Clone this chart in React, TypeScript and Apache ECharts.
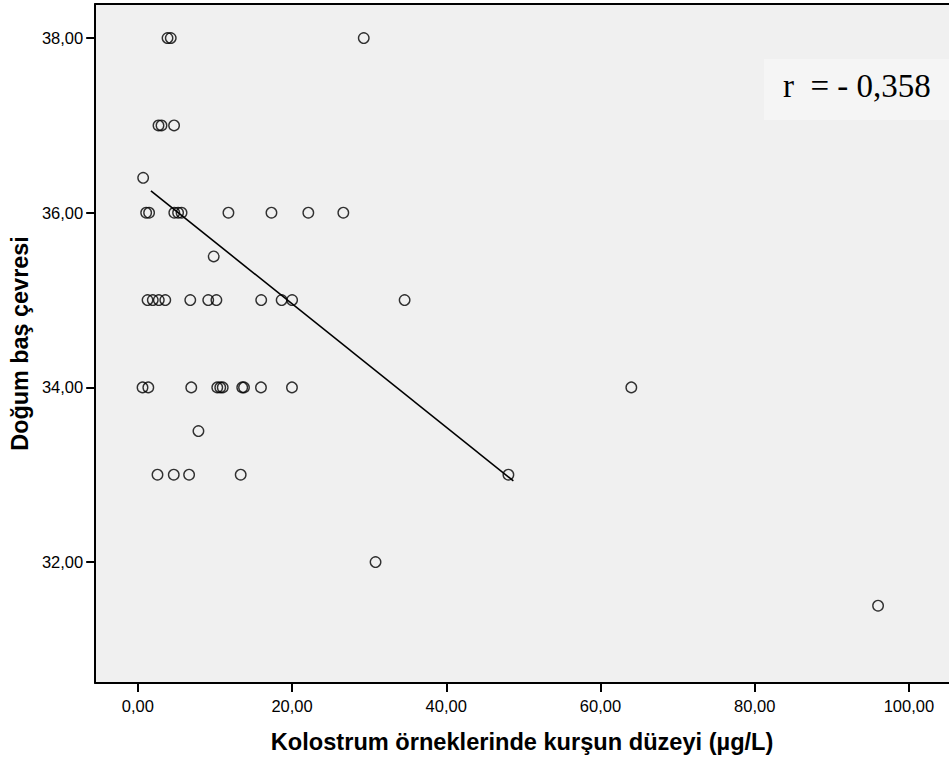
import React, { useEffect, useRef } from "react";
import * as echarts from "echarts";

// Lead level in colostrum (µg/L) and birth head circumference (cm)
const leadX = [
  3.85, 4.27, 29.3,
  2.68, 3.07, 4.7,
  0.69,
  1.08, 1.46, 4.73, 5.22, 5.67, 11.75, 17.33, 22.11, 26.65,
  9.84,
  1.26, 1.94, 2.72, 3.56, 6.8, 9.13, 10.19, 16.0, 18.65, 20.01, 34.6,
  0.61, 1.36, 6.93, 10.3, 10.69, 11.01, 13.54, 13.77, 15.97, 19.99, 64.0,
  7.86,
  2.55, 4.66, 6.65, 13.34, 48.06,
  30.83,
  96.0,
];
const headY = [
  38, 38, 38,
  37, 37, 37,
  36.4,
  36, 36, 36, 36, 36, 36, 36, 36, 36,
  35.5,
  35, 35, 35, 35, 35, 35, 35, 35, 35, 35, 35,
  34, 34, 34, 34, 34, 34, 34, 34, 34, 34, 34,
  33.5,
  33, 33, 33, 33, 33,
  32,
  31.5,
];
const fitX = [1.7, 48.7];
const fitY = [36.25, 32.93];
const xTicks = [0, 20, 40, 60, 80, 100];
const yTicks = [32, 34, 36, 38];
const xTitle = "Kolostrum örneklerinde kurşun düzeyi (µg/L)";
const yTitle = "Doğum baş çevresi";
const rLabel = "r  = - 0,358";

const X_MIN = -5.53;
const X_MAX = 105.2;
const Y_MIN = 30.615;
const Y_MAX = 38.39;

const fmt = (v: number) => v.toFixed(2).replace(".", ",");

export default function App() {
  const ref = useRef<HTMLDivElement>(null);
  useEffect(() => {
    if (!ref.current) return;
    const chart = echarts.init(ref.current, undefined, { renderer: "svg" });
    const sans = '"Liberation Sans", Arial, sans-serif';
    chart.setOption({
      animation: false,
      backgroundColor: "#ffffff",
      grid: {
        left: 94,
        top: 4,
        right: 0,
        bottom: 81,
        show: true,
        backgroundColor: "#f0f0f0",
        borderWidth: 0,
      },
      xAxis: [
        {
          type: "value",
          min: X_MIN,
          max: X_MAX,
          position: "bottom",
          name: xTitle,
          nameLocation: "middle",
          nameGap: 47,
          nameTextStyle: { fontFamily: sans, fontSize: 23.6, fontWeight: "bold", color: "#000" },
          axisLine: { show: true, onZero: false, lineStyle: { color: "#000", width: 2 } },
          axisTick: { show: true, length: 9, customValues: xTicks, lineStyle: { color: "#000", width: 2 } },
          axisLabel: {
            customValues: xTicks,
            formatter: (v: number) => fmt(v),
            fontFamily: sans,
            fontSize: 16.5,
            color: "#000",
            margin: 14,
          },
          splitLine: { show: false },
        },
        {
          type: "value",
          min: X_MIN,
          max: X_MAX,
          position: "top",
          axisLine: { show: true, onZero: false, lineStyle: { color: "#000", width: 2 } },
          axisTick: { show: false },
          axisLabel: { show: false },
          splitLine: { show: false },
        },
      ],
      yAxis: {
        type: "value",
        min: Y_MIN,
        max: Y_MAX,
        name: yTitle,
        nameLocation: "middle",
        nameGap: 62,
        nameTextStyle: { fontFamily: sans, fontSize: 23.4, fontWeight: "bold", color: "#000" },
        axisLine: { show: true, onZero: false, lineStyle: { color: "#000", width: 2 } },
        axisTick: { show: true, length: 9, customValues: yTicks, lineStyle: { color: "#000", width: 2 } },
        axisLabel: {
          customValues: yTicks,
          formatter: (v: number) => fmt(v),
          fontFamily: sans,
          fontSize: 16.5,
          color: "#000",
          margin: 12,
        },
        splitLine: { show: false },
      },
      graphic: [
        {
          type: "group",
          right: 0,
          top: 59,
          children: [
            {
              type: "rect",
              shape: { x: 0, y: 0, width: 185, height: 61 },
              style: { fill: "#f5f5f5" },
            },
            {
              type: "text",
              x: 19,
              y: 27,
              style: {
                text: rLabel,
                font: '33px "Liberation Serif", "Times New Roman", serif',
                fill: "#000",
                verticalAlign: "middle",
                textAlign: "left",
              },
            },
          ],
        },
      ],
      series: [
        {
          type: "line",
          data: fitX.map((x, i) => [x, fitY[i]]),
          symbol: "none",
          lineStyle: { color: "#000", width: 1.6 },
          silent: true,
          z: 2,
        },
        {
          type: "scatter",
          data: leadX.map((x, i) => [x, headY[i]]),
          symbol: "circle",
          symbolSize: 10.5,
          itemStyle: { color: "rgba(0,0,0,0)", borderColor: "#000", borderWidth: 1.4 },
          z: 3,
        },
      ],
    });
    return () => chart.dispose();
  }, []);
  return (
    <div
      ref={ref}
      style={{ position: "fixed", left: 0, top: 0, width: 949, height: 764 }}
    />
  );
}
